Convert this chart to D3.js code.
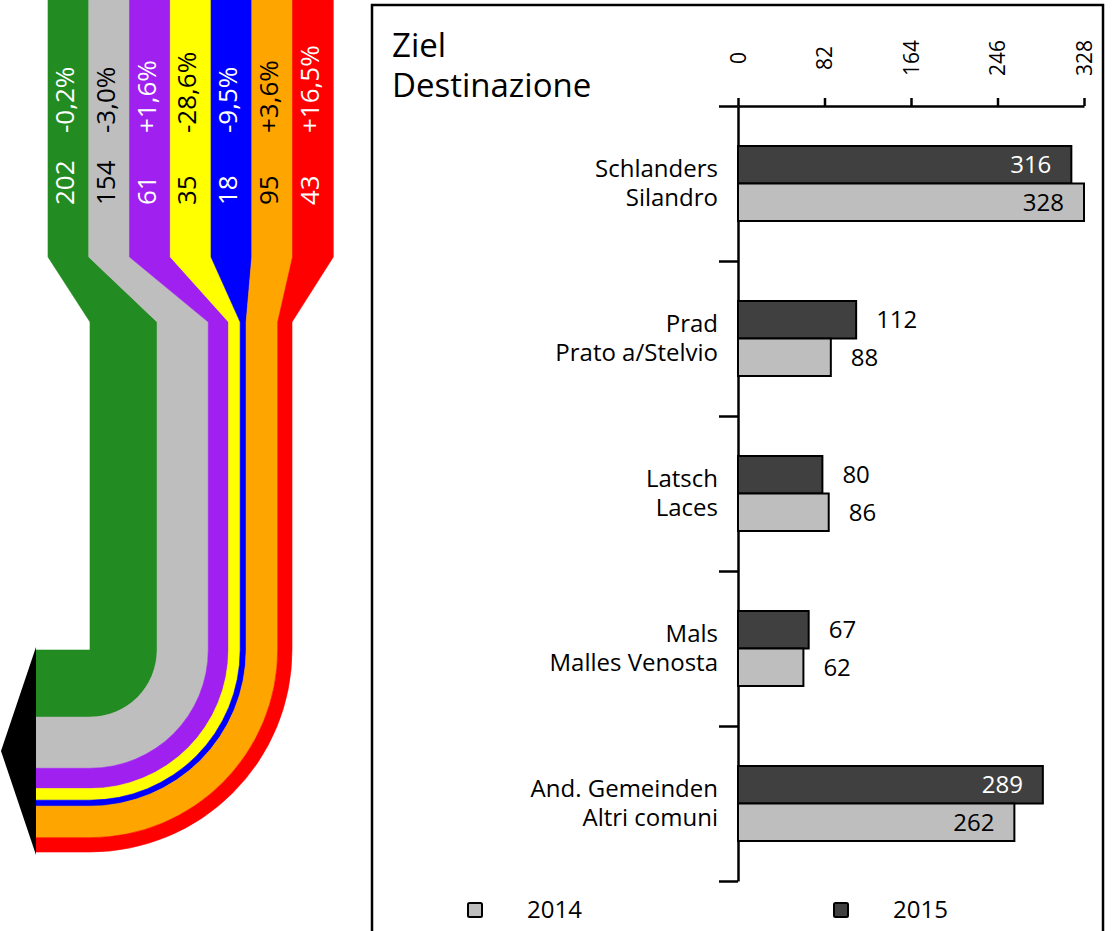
<!DOCTYPE html>
<html>
<head>
<meta charset="utf-8">
<script src="https://cdn.jsdelivr.net/npm/d3@7"></script>
<style>
  html, body { margin: 0; padding: 0; background: #fff; }
  svg { display: block; font-family: "Open Sans", sans-serif; }
</style>
</head>
<body>
<svg id="chart" width="1112" height="931"></svg>
<script>
// ---- Flow band data (origin groups, 2015 counts and change vs. 2014)
const flowValues = [202, 154, 61, 35, 18, 95, 43];
const flowChanges = ["-0,2%", "-3,0%", "+1,6%", "-28,6%", "-9,5%", "+3,6%", "+16,5%"];
const flowColors = ["#228B22", "#BEBEBE", "#A020F0", "#FFFF00", "#0000FF", "#FFA500", "#FF0000"];
const flowTextColors = ["#ffffff", "#000000", "#ffffff", "#000000", "#ffffff", "#000000", "#ffffff"];

// ---- Destination bar data
const destDe = ["Schlanders", "Prad", "Latsch", "Mals", "And. Gemeinden"];
const destIt = ["Silandro", "Prato a/Stelvio", "Laces", "Malles Venosta", "Altri comuni"];
const values2015 = [316, 112, 80, 67, 289];
const values2014 = [328, 88, 86, 62, 262];
const axisTicks = [0, 82, 164, 246, 328];
const years = ["2014", "2015"];
const yearColors = ["#BEBEBE", "#404040"];

const svg = d3.select("#chart");

// =================== Flow diagram ===================
const topY = 0, taperStart = 257, taperEnd = 322, bendY = 650;
const pivotX = 90, arrowBaseX = 36;

const topBand = d3.scaleBand().domain(d3.range(flowValues.length)).range([48, 333.3]);
const width = d3.scaleLinear().domain([0, d3.sum(flowValues)]).range([0, 202]);
const cum = [0, ...d3.cumsum(flowValues)];

const flow = svg.append("g").attr("class", "flow");

flowValues.forEach((v, i) => {
  const r0 = width(cum[i]), r1 = width(cum[i + 1]);
  const tl = topBand(i), tr = topBand(i) + topBand.bandwidth();
  const p = d3.path();
  p.moveTo(tl, topY);
  p.lineTo(tr, topY);
  p.lineTo(tr, taperStart);
  p.lineTo(pivotX + r1, taperEnd);
  p.lineTo(pivotX + r1, bendY);
  p.arc(pivotX, bendY, r1, 0, Math.PI / 2, false);
  p.lineTo(arrowBaseX, bendY + r1);
  p.lineTo(arrowBaseX, bendY + r0);
  p.lineTo(pivotX, bendY + r0);
  if (r0 > 0) p.arc(pivotX, bendY, r0, Math.PI / 2, 0, true);
  p.lineTo(pivotX + r0, taperEnd);
  p.lineTo(tl, taperStart);
  p.closePath();
  flow.append("path")
    .attr("d", p.toString())
    .attr("fill", flowColors[i])
    .attr("stroke", flowColors[i])
    .attr("stroke-width", 0.6);
});

// arrow head
const total = width(d3.sum(flowValues));
flow.append("path")
  .attr("d", d3.line()([
    [arrowBaseX, bendY - 3],
    [1, bendY + total / 2],
    [arrowBaseX, bendY + total + 3]
  ]) + "Z")
  .attr("fill", "#000");

// rotated labels in each band
flowValues.forEach((v, i) => {
  const cx = topBand(i) + topBand.bandwidth() / 2;
  flow.append("text")
    .attr("transform", `translate(${cx},205) rotate(-90)`)
    .attr("dy", "0.22em")
    .attr("font-size", 26)
    .attr("fill", flowTextColors[i])
    .text(v);
  flow.append("text")
    .attr("transform", `translate(${cx},133) rotate(-90)`)
    .attr("dy", "0.22em")
    .attr("font-size", 26)
    .attr("fill", flowTextColors[i])
    .text(flowChanges[i]);
});

// =================== Destination panel ===================
svg.append("rect")
  .attr("x", 372).attr("y", 5)
  .attr("width", 731).attr("height", 1000)
  .attr("fill", "none")
  .attr("stroke", "#000")
  .attr("stroke-width", 2.5);

const title = svg.append("text").attr("font-size", 33).attr("fill", "#000");
title.append("tspan").attr("x", 392).attr("y", 57).text("Ziel");
title.append("tspan").attr("x", 392).attr("y", 97).text("Destinazione");

const axisY = 106, axisBottom = 881;
const x = d3.scaleLinear().domain([0, 328]).range([738, 1084]);
const y = d3.scaleBand().domain(destDe).range([axisY, axisBottom]);
const inner = d3.scaleBand().domain(["2015", "2014"]).range([0, 75]);
const groupOffset = (y.bandwidth() - 75) / 2;

// top value axis
const gTop = svg.append("g")
  .attr("transform", `translate(0,${axisY})`)
  .call(d3.axisTop(x).tickValues(axisTicks).tickSize(8).tickSizeOuter(0));
gTop.selectAll("path, line").attr("stroke", "#000").attr("stroke-width", 2.5);
gTop.selectAll("text")
  .attr("transform", "rotate(-90)")
  .attr("x", 48).attr("y", 0)
  .attr("dy", "0.35em")
  .attr("text-anchor", "middle")
  .attr("font-size", 21)
  .attr("font-family", "Open Sans, sans-serif")
  .attr("fill", "#000");

// left category axis (ticks at group boundaries)
const edge = d3.scaleLinear().domain([0, destDe.length]).range([axisY, axisBottom]);
const gLeft = svg.append("g")
  .attr("transform", `translate(${x(0)},0)`)
  .call(d3.axisLeft(edge).ticks(destDe.length).tickSize(19).tickSizeOuter(0).tickFormat(""));
gLeft.selectAll("path, line").attr("stroke", "#000").attr("stroke-width", 2.5);

// bars
const rows = destDe.map((d, i) => ({ de: d, it: destIt[i], v15: values2015[i], v14: values2014[i] }));
const bars = svg.append("g");
rows.forEach(r => {
  const g = bars.append("g").attr("transform", `translate(0,${y(r.de) + groupOffset})`);
  [["2015", r.v15, yearColors[1], "#fff"], ["2014", r.v14, yearColors[0], "#000"]].forEach(([yr, v, col, txtCol]) => {
    g.append("rect")
      .attr("x", x(0))
      .attr("y", inner(yr))
      .attr("width", x(v) - x(0))
      .attr("height", inner.bandwidth())
      .attr("fill", col)
      .attr("stroke", "#000")
      .attr("stroke-width", 2);
    const insideLabel = v > 164;
    g.append("text")
      .attr("x", insideLabel ? x(v) - 20 : x(v) + 20)
      .attr("y", inner(yr) + inner.bandwidth() / 2)
      .attr("dy", "0.36em")
      .attr("text-anchor", insideLabel ? "end" : "start")
      .attr("font-size", 24)
      .attr("fill", insideLabel ? txtCol : "#000")
      .text(v);
  });
  // category labels (German / Italian)
  const cy = y(r.de) + y.bandwidth() / 2;
  svg.append("text")
    .attr("x", 718).attr("y", cy - 7)
    .attr("text-anchor", "end").attr("font-size", 24).attr("fill", "#000")
    .text(r.de);
  svg.append("text")
    .attr("x", 718).attr("y", cy + 22.5)
    .attr("text-anchor", "end").attr("font-size", 24).attr("fill", "#000")
    .text(r.it);
});

// legend
const legendX = [475, 841];
years.forEach((yr, i) => {
  svg.append("rect")
    .attr("x", legendX[i] - 7).attr("y", 903)
    .attr("width", 14).attr("height", 14)
    .attr("rx", 1.5)
    .attr("fill", yearColors[i])
    .attr("stroke", "#000").attr("stroke-width", 2);
  svg.append("text")
    .attr("x", legendX[i] + 52).attr("y", 918)
    .attr("font-size", 24).attr("fill", "#000")
    .text(yr);
});
</script>
</body>
</html>
